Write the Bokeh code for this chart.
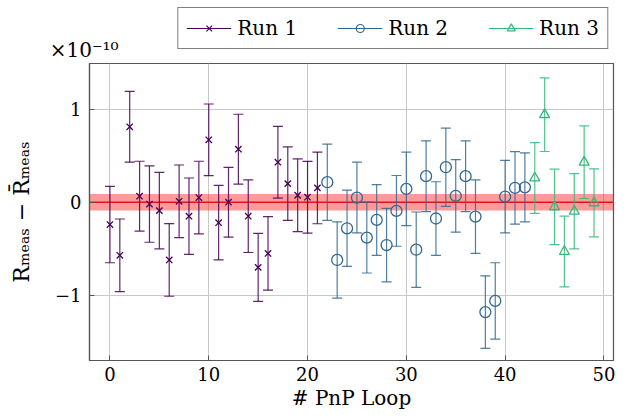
from bokeh.plotting import figure
from bokeh.layouts import column
from bokeh.models import (ColumnDataSource, Whisker, TeeHead, Legend, LegendItem,
                          Range1d, FixedTicker, BoxAnnotation, Span)
from bokeh.embed import file_html
from bokeh.resources import INLINE

# ---- data (deviation in units of 1e-10) ----
run1_loop = list(range(0, 22))
run1_dev = [-0.24, -0.57, 0.81, 0.065, -0.02, -0.09, -0.62, 0.01, -0.15, 0.05, 0.67,
            -0.22, 0.0, 0.57, -0.15, -0.70, -0.55, 0.43, 0.20, 0.075, 0.054, 0.154]
run1_err = [0.41, 0.39, 0.38, 0.375, 0.41, 0.41, 0.39, 0.39, 0.41, 0.39, 0.385,
            0.40, 0.375, 0.375, 0.39, 0.365, 0.395, 0.385, 0.395, 0.39, 0.385, 0.385]

run2_loop = list(range(22, 43))
run2_dev = [0.215, -0.62, -0.28, 0.05, -0.38, -0.19, -0.46, -0.093, 0.143, -0.51, 0.28,
            -0.175, 0.376, 0.068, 0.28, -0.155, -1.18, -1.06, 0.06, 0.154, 0.16]
run2_err = [0.41, 0.41, 0.41, 0.38, 0.38, 0.38, 0.395, 0.38, 0.395, 0.405, 0.38,
            0.395, 0.42, 0.39, 0.38, 0.395, 0.39, 0.41, 0.39, 0.39, 0.37]

run3_loop = list(range(43, 50))
run3_dev = [0.26, 0.94, -0.05, -0.53, -0.097, 0.43, -0.007]
run3_err = [0.38, 0.395, 0.405, 0.38, 0.405, 0.39, 0.365]

mean_dev = 0.0
mean_unc = 0.088

run_names = ["Run 1", "Run 2", "Run 3"]
run_colors = ["#440154", "#31688e", "#35b779"]
run_markers = ["x", "circle", "triangle"]
run_sizes = [9, 11, 10]

x_ticks = [0, 10, 20, 30, 40, 50]
y_ticks = [-1, 0, 1]
scale_text = "\u00d710\u207b\u00b9\u2070"

FONT = "DejaVu Serif"
FS_TICK = "18px"
FS = "20px"
AX_COL = "#555555"

# ---------------- main plot ----------------
p = figure(width=617, height=349, output_backend="svg", toolbar_location=None,
           x_range=Range1d(-2.07, 50.97), y_range=Range1d(-1.70, 1.49),
           min_border_left=89, min_border_right=4, min_border_top=0, min_border_bottom=52)
p.background_fill_color = "white"
p.border_fill_color = "white"
p.outline_line_color = AX_COL
p.outline_line_width = 1.2

for ax in (p.xaxis[0], p.yaxis[0]):
    ax.major_label_text_font = FONT
    ax.major_label_text_font_size = FS_TICK
    ax.major_label_text_color = "black"
    ax.axis_label_text_font = FONT
    ax.axis_label_text_font_size = FS
    ax.axis_label_text_font_style = "normal"
    ax.axis_label_text_color = "black"
    ax.major_tick_in = 5
    ax.major_tick_out = 0
    ax.minor_tick_in = 0
    ax.minor_tick_out = 0
    ax.major_tick_line_color = AX_COL
    ax.axis_line_color = AX_COL
    ax.axis_line_width = 1.2
    ax.major_label_standoff = 8

p.xaxis.ticker = FixedTicker(ticks=x_ticks)
p.yaxis.ticker = FixedTicker(ticks=y_ticks)
p.yaxis.major_label_overrides = {-1: "\u22121", 0: "0", 1: "1"}
p.xaxis.axis_label = "# PnP Loop"
p.yaxis.axis_label = "R\u2098\u2091\u2090\u209b \u2212 R\u0304\u2098\u2091\u2090\u209b"
p.yaxis.axis_label_text_font_size = "22px"
p.xaxis.major_label_standoff = 6
p.xaxis.axis_label_standoff = 2
p.yaxis.axis_label_standoff = 18

p.grid.grid_line_color = "#c8c8c8"
p.grid.grid_line_width = 1
p.xgrid.ticker = FixedTicker(ticks=x_ticks)
p.ygrid.ticker = FixedTicker(ticks=y_ticks)

band = BoxAnnotation(bottom=mean_dev - mean_unc, top=mean_dev + mean_unc,
                     fill_color="#ff2020", fill_alpha=0.45, line_alpha=0, level="underlay")
p.add_layout(band)
p.add_layout(Span(location=mean_dev, dimension="width", line_color="#e0161b",
                  line_width=1.5, level="underlay"))

# ---------------- legend strip (also carries the x10^-10 scale text) ----------------
lf = figure(width=617, height=63, output_backend="svg", toolbar_location=None,
            x_range=Range1d(1000, 1001), y_range=Range1d(0, 61),
            x_axis_type=None, y_axis_location="left",
            min_border_left=0, min_border_right=0, min_border_top=2, min_border_bottom=0)
lf.outline_line_color = None
lf.grid.visible = False
lf.background_fill_color = "white"
lf.border_fill_color = "white"
ly_ax = lf.yaxis[0]
ly_ax.ticker = FixedTicker(ticks=[14])
ly_ax.major_label_overrides = {14: scale_text}
ly_ax.major_label_text_font = FONT
ly_ax.major_label_text_font_size = FS
ly_ax.major_label_text_color = "black"
ly_ax.major_label_standoff = -29
ly_ax.major_tick_in = 0
ly_ax.major_tick_out = 0
ly_ax.minor_tick_in = 0
ly_ax.minor_tick_out = 0
ly_ax.axis_line_color = None

items = []
runs = [(run1_loop, run1_dev, run1_err), (run2_loop, run2_dev, run2_err),
        (run3_loop, run3_dev, run3_err)]
for (lx, ly, le), name, col, mk, sz in zip(runs, run_names, run_colors, run_markers, run_sizes):
    src = ColumnDataSource(dict(x=lx, y=ly,
                                lower=[a - b for a, b in zip(ly, le)],
                                upper=[a + b for a, b in zip(ly, le)]))
    w = Whisker(source=src, base="x", lower="lower", upper="upper", dimension="height",
                line_color=col, line_width=1.2, line_alpha=0.85,
                upper_head=TeeHead(size=10, line_color=col, line_width=1.2, line_alpha=0.85),
                lower_head=TeeHead(size=10, line_color=col, line_width=1.2, line_alpha=0.85))
    p.add_layout(w)
    p.scatter("x", "y", source=src, marker=mk, size=sz, line_color=col,
              fill_color=None, line_width=1.3)
    # legend sample renderers (live in the legend strip, outside its visible range)
    ln = lf.line("x", "y", source=src, line_color=col, line_width=1.2)
    mkr = lf.scatter("x", "y", source=src, marker=mk, size=sz - 2, line_color=col,
                     fill_color=None, line_width=1.2)
    items.append(LegendItem(label=name, renderers=[ln, mkr]))

legend = Legend(items=items, orientation="horizontal", location="top_right",
                label_text_font=FONT, label_text_font_size=FS, label_text_color="black",
                glyph_width=45, glyph_height=20, label_standoff=6, spacing=40,
                padding=8, margin=5, border_line_color="black", border_line_width=1.2,
                background_fill_alpha=1.0)
lf.add_layout(legend)

layout = column(lf, p, spacing=0)
open("out.html", "w").write(file_html(layout, INLINE))
